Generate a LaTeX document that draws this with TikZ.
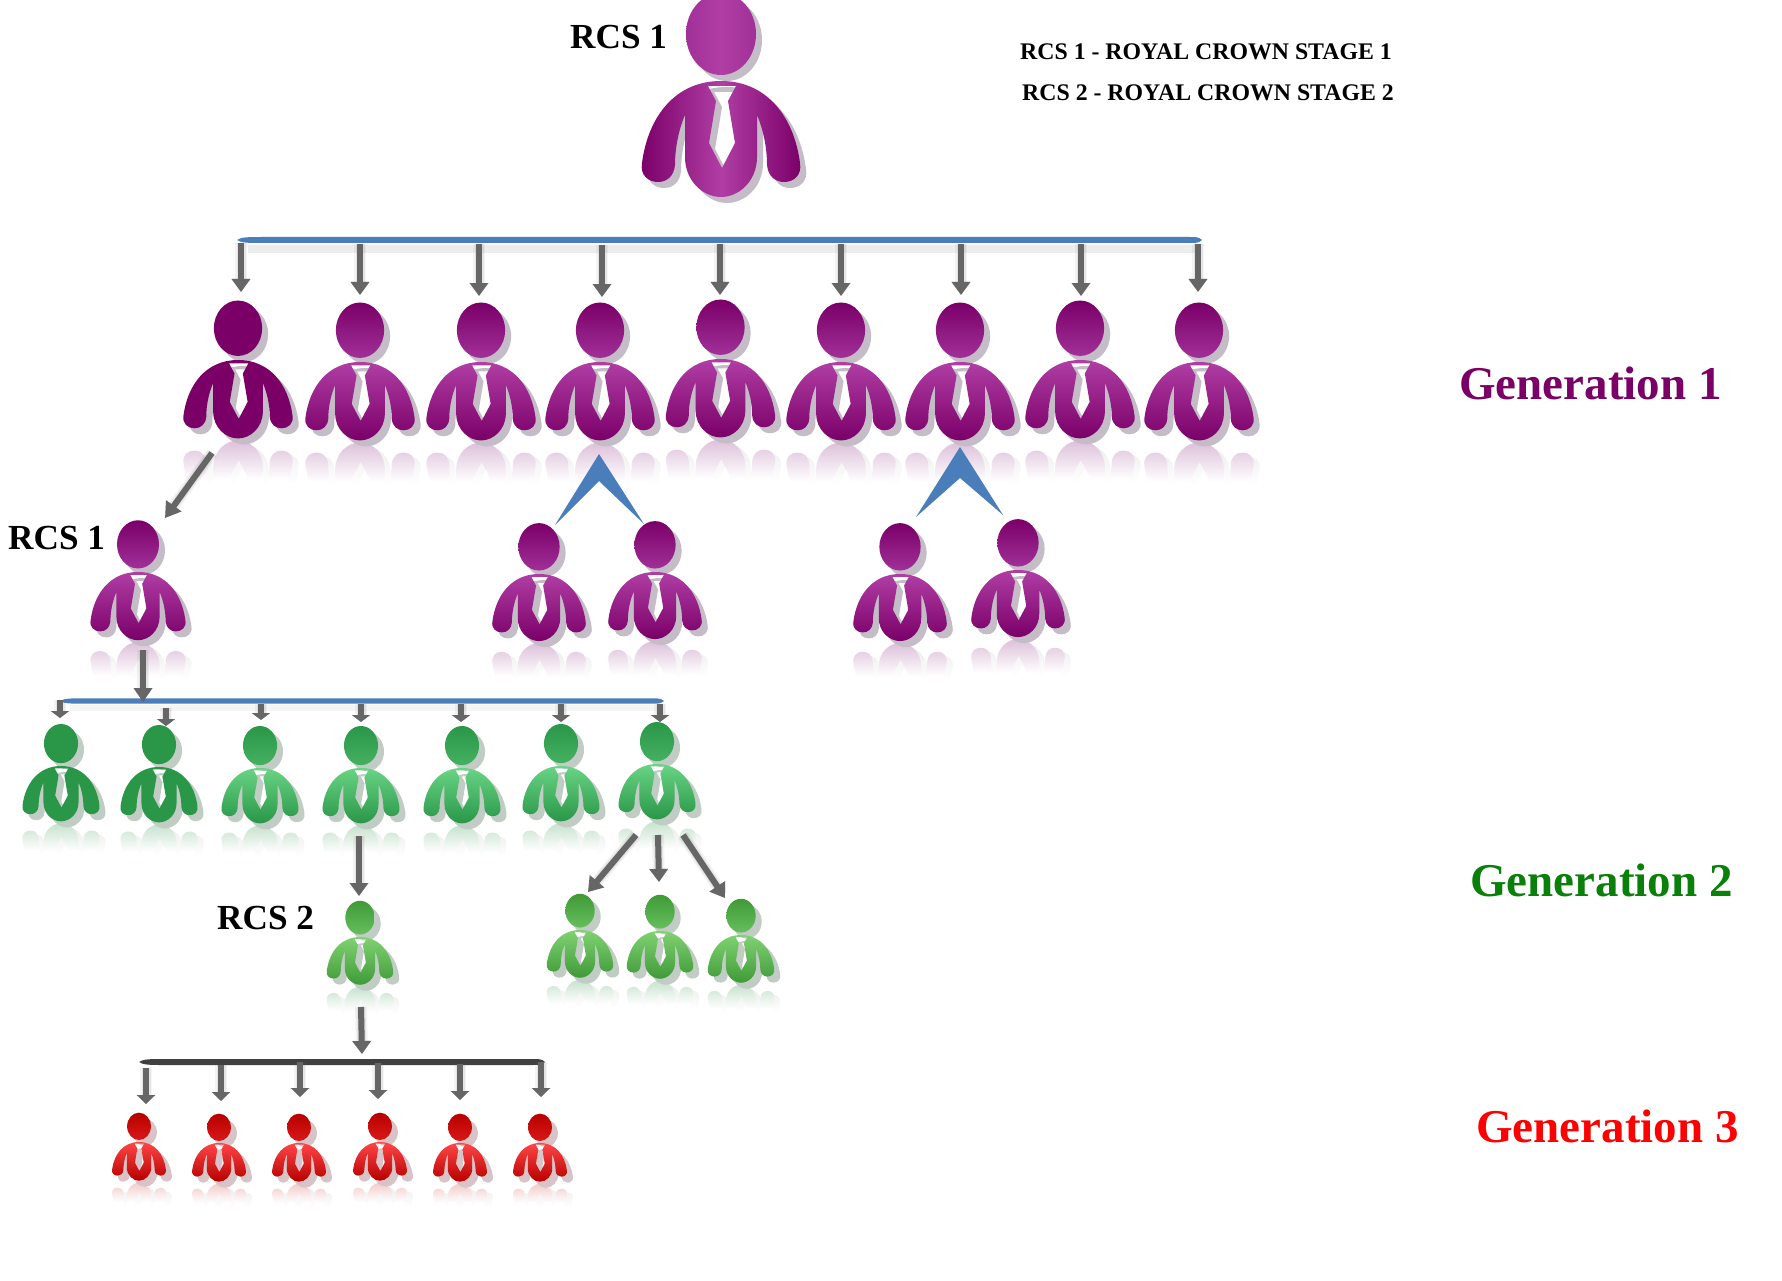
\documentclass[tikz,border=0pt]{standalone}
\usepackage{fontspec}
\setmainfont{Liberation Serif}
\usetikzlibrary{arrows.meta}

% Colours of the organisation chart
\definecolor{plumDark}{HTML}{7A0068}
\definecolor{plumMid}{HTML}{A03098}
\definecolor{plumLight}{HTML}{B03EA4}
\definecolor{plumShadow}{HTML}{C4BCC6}
\definecolor{plumMirror}{HTML}{DDC0DA}
\definecolor{greenDark}{HTML}{2A9648}
\definecolor{greenMid}{HTML}{44B060}
\definecolor{greenLight}{HTML}{68D484}
\definecolor{greenShadow}{HTML}{C0CCC4}
\definecolor{greenMirror}{HTML}{C8E2CE}
\definecolor{leafDark}{HTML}{409A38}
\definecolor{leafMid}{HTML}{66BE5C}
\definecolor{leafLight}{HTML}{80D272}
\definecolor{redDark}{HTML}{B80000}
\definecolor{redMid}{HTML}{D81818}
\definecolor{redLight}{HTML}{FF4646}
\definecolor{redShadow}{HTML}{D8C4C6}
\definecolor{redMirror}{HTML}{F2CCCC}
\definecolor{barBlue}{HTML}{4A7EBB}
\definecolor{barDark}{HTML}{404040}
\definecolor{arrowGrey}{HTML}{666666}
\definecolor{genGreen}{HTML}{0A800A}

% Outline of a figure's torso and arms, with the tie cut out
\newcommand{\figbody}{
  (0,0) .. controls (46,0) and (73,36) .. (79,82)
  .. controls (81,94) and (73,101) .. (63,101)
  .. controls (54,101) and (47,95) .. (46,84)
  .. controls (46,66) and (42,48) .. (36,34)
  -- (36,76) .. controls (36,100) and (18,116) .. (0,116)
  .. controls (-18,116) and (-36,100) .. (-36,76)
  -- (-36,34)
  .. controls (-42,48) and (-46,66) .. (-46,84)
  .. controls (-47,95) and (-54,101) .. (-63,101)
  .. controls (-73,101) and (-81,94) .. (-79,82)
  .. controls (-73,36) and (-46,0) .. (0,0) -- cycle
  (-13,5) -- (15,5) -- (7,20) -- (14,62) -- (1,87) -- (-12,62) -- (-5,20) -- cycle
}
\newcommand{\fighead}{ (0,-47) ellipse [x radius=35, y radius=41] }
\newcommand{\yfac}{.98}

% A figure without its mirror image: name, x, top of torso, scale
\newcommand{\bareperson}[5]{
  \coordinate (#1) at (#2,#3);
  \begin{scope}[#5]
    \pgfmathsetmacro{\ysc}{#4*\yfac}
    \begin{scope}[shift={(#2+6,#3+6)},x=#4pt,y=-\ysc pt]
      \fill[pshadow,even odd rule] \figbody;
      \fill[pshadow] \fighead;
    \end{scope}
    \begin{scope}[shift={(#2,#3)},x=#4pt,y=-\ysc pt]
      \shade[pbody,even odd rule] \figbody;
      \shade[phead] \fighead;
    \end{scope}
  \end{scope}
}
% A figure standing on a fading mirror image
\newcommand{\person}[5]{
  \begin{scope}[#5]
    \pgfmathsetmacro{\ysc}{#4*\yfac}
    \pgfmathsetmacro{\mirrorbase}{#3+2*116*\ysc+2}
    \begin{scope}[shift={(#2+6,\mirrorbase+4)},x=#4pt,y=\ysc pt]
      \shade[even odd rule,top color=black!7,bottom color=white,middle color=white] \figbody;
    \end{scope}
    \begin{scope}[shift={(#2,\mirrorbase)},x=#4pt,y=\ysc pt]
      \shade[pmirror,even odd rule] \figbody;
    \end{scope}
  \end{scope}
  \bareperson{#1}{#2}{#3}{#4}{#5}
}

% Connector with its soft drop shadow: name, start, end, tip length
\newcommand{\link}[4]{
  \coordinate (#1-a) at (#2);
  \coordinate (#1-b) at (#3);
  \begin{scope}[shift={(6,6)}]
    \draw[softarrow={#4},line width=12pt,opacity=.07] (#1-a) -- (#1-b);
    \draw[softarrow={#4},line width=9pt,opacity=.1] (#1-a) -- (#1-b);
    \draw[softarrow={#4},line width=6pt,opacity=.13] (#1-a) -- (#1-b);
  \end{scope}
  \draw[solidarrow={#4}] (#1-a) -- (#1-b);
}

% Tapered horizontal bar: name, left x, right x, y, half thickness, colour
\newcommand{\busbar}[6]{
  \coordinate (#1-l) at (#2,#4);
  \coordinate (#1-r) at (#3,#4);
  \fill[#6] (#1-l) .. controls +(4,-#5) and +(-12,0) .. ([shift={(24,-#5)}]#1-l)
    -- ([shift={(-12,-#5)}]#1-r) .. controls +(6,0) and +(-3,-#5) .. (#1-r)
    .. controls +(-3,#5) and +(6,0) .. ([shift={(-12,#5)}]#1-r)
    -- ([shift={(24,#5)}]#1-l) .. controls +(-12,0) and +(4,#5) .. (#1-l) -- cycle;
}

% Blue chevron that leads from one figure to the two below it
\newcommand{\chevron}[5]{
  \coordinate (#1-top) at (#2);
  \coordinate (#1-in) at (#3);
  \coordinate (#1-l) at (#4);
  \coordinate (#1-r) at (#5);
  \fill[barBlue] (#1-top) -- (#1-r) -- (#1-in) -- (#1-l) -- cycle;
}

\tikzset{
  softarrow/.style={arrowGrey,line cap=butt,
    -{Triangle[width=18pt,length=#1pt,sep=0pt]}},
  solidarrow/.style={arrowGrey,line width=6pt,
    -{Triangle[width=18pt,length=#1pt,sep=0pt]}},
  bigplum/.style={
    pbody/.style={left color=plumDark,right color=plumDark,middle color=plumLight},
    phead/.style={left color=plumMid,right color=plumMid,middle color=plumLight},
    pshadow/.style={fill=plumShadow}},
  plumflat/.style={
    pbody/.style={top color=plumDark,bottom color=plumDark},
    phead/.style={top color=plumDark,bottom color=plumDark},
    pshadow/.style={fill=plumShadow},
    pmirror/.style={top color=plumMirror,bottom color=white,middle color=white}},
  plumgrad/.style={
    pbody/.style={top color=plumLight,bottom color=plumDark},
    phead/.style={top color=plumDark,bottom color=plumMid},
    pshadow/.style={fill=plumShadow},
    pmirror/.style={top color=plumMirror,bottom color=white,middle color=white}},
  greenflat/.style={
    pbody/.style={top color=greenDark,bottom color=greenDark},
    phead/.style={top color=greenDark,bottom color=greenDark},
    pshadow/.style={fill=greenShadow},
    pmirror/.style={top color=greenMirror,bottom color=white,middle color=white}},
  greengrad/.style={
    pbody/.style={top color=greenLight,bottom color=greenDark},
    phead/.style={top color=greenDark,bottom color=greenMid},
    pshadow/.style={fill=greenShadow},
    pmirror/.style={top color=greenMirror,bottom color=white,middle color=white}},
  leafgrad/.style={
    pbody/.style={top color=leafLight,bottom color=leafDark},
    phead/.style={top color=leafDark,bottom color=leafMid},
    pshadow/.style={fill=greenShadow},
    pmirror/.style={top color=greenMirror,bottom color=white,middle color=white}},
  redgrad/.style={
    pbody/.style={top color=redLight,bottom color=redDark},
    phead/.style={top color=redDark,bottom color=redMid},
    pshadow/.style={fill=redShadow},
    pmirror/.style={top color=redMirror,bottom color=white,middle color=white}},
  caption/.style={font=\fontsize{35.2}{40}\selectfont\bfseries,inner sep=0pt},
  generation/.style={font=\fontsize{47}{52}\selectfont\bfseries,inner sep=0pt},
  legendline/.style={font=\fontsize{23.8}{28}\selectfont\bfseries,inner sep=0pt},
}

\begin{document}
\begin{tikzpicture}[x=1pt,y=-1pt]
  \clip (0,0) rectangle (1782,1281);
  \fill[white] (0,0) rectangle (1782,1281);

  % Founder at the top
  \renewcommand{\yfac}{1}
  \bareperson{root}{721}{81}{1}{bigplum}
  \renewcommand{\yfac}{.98}

  % Generation 1 row
  \person{g1a}{238}{360}{.69}{plumflat}
  \person{g1b}{360}{362}{.69}{plumgrad}
  \person{g1c}{481}{362}{.69}{plumgrad}
  \person{g1d}{600}{362}{.69}{plumgrad}
  \person{g1e}{720.5}{359}{.69}{plumgrad}
  \person{g1f}{841}{362}{.69}{plumgrad}
  \person{g1g}{960}{362}{.69}{plumgrad}
  \person{g1h}{1080}{360}{.69}{plumgrad}
  \person{g1i}{1199}{362}{.69}{plumgrad}

  % Recruits of Generation 1
  \person{r1}{138}{572}{.6}{plumgrad}
  \person{pa}{539}{574}{.59}{plumgrad}
  \person{pb}{655}{572}{.59}{plumgrad}
  \person{pc}{900}{574}{.59}{plumgrad}
  \person{pd}{1018}{570}{.59}{plumgrad}

  % Generation 2 row
  \person{g2a}{61}{766}{.487}{greenflat}
  \person{g2b}{159}{767}{.487}{greenflat}
  \person{g2c}{260}{768}{.487}{greengrad}
  \person{g2d}{361}{768}{.487}{greengrad}
  \person{g2e}{462}{768}{.487}{greengrad}
  \person{g2f}{561}{766}{.487}{greengrad}
  \person{g2g}{657}{764}{.487}{greengrad}

  % Recruits of Generation 2
  \person{r2}{360}{937}{.42}{leafgrad}
  \person{la}{580}{930}{.42}{leafgrad}
  \person{lb}{660}{931}{.42}{leafgrad}
  \person{lc}{741}{935}{.42}{leafgrad}

  % Generation 3 row
  \person{g3a}{139}{1142}{.34}{redgrad}
  \person{g3b}{219}{1143}{.34}{redgrad}
  \person{g3c}{299}{1143}{.34}{redgrad}
  \person{g3d}{380}{1142}{.34}{redgrad}
  \person{g3e}{460}{1143}{.34}{redgrad}
  \person{g3f}{540}{1143}{.34}{redgrad}

  % Horizontal bars
  \fill[black,opacity=.07] (248,245) rectangle (1200,253);
  \busbar{busone}{237}{1202}{240}{3}{barBlue}
  \fill[black,opacity=.04] (70,705) rectangle (662,711);
  \busbar{bustwo}{60}{664}{701}{2.7}{barBlue}
  \busbar{busthree}{139}{545}{1062}{3}{barDark}

  % Chevrons under two Generation 1 figures
  \chevron{chevone}{599,454}{599,481}{555,525}{644,524}
  \chevron{chevtwo}{960,447}{960,478}{916,517}{1003,515}

  % Arrows from the top bar to Generation 1
  \link{ga}{241,243}{241,292}{13}
  \link{gb}{360,244}{360,295}{13}
  \link{gc}{479,244}{479,296}{13}
  \link{gd}{602,245}{602,297}{13}
  \link{ge}{720,244}{720,295}{13}
  \link{gf}{841,244}{841,296}{13}
  \link{gg}{961,244}{961,295}{13}
  \link{gh}{1081,244}{1081,296}{13}
  \link{gi}{1198,244}{1198,292}{13}

  % First recruit and the second bar
  \link{down}{212,453}{165,518}{15}
  \link{toptwo}{143,650}{143,702}{14}

  % Arrows from the second bar to Generation 2
  \link{ha}{60,700}{60,718}{7}
  \link{hb}{166,708}{166,726}{7}
  \link{hc}{261,704}{261,720}{7}
  \link{hd}{361,704}{361,722}{7}
  \link{he}{461,704}{461,722}{7}
  \link{hf}{561,704}{561,722}{7}
  \link{hg}{660,704}{660,722}{7}

  % Arrows below Generation 2
  \link{ka}{359,836}{359,896}{13}
  \link{kb}{636,835}{588,892}{14}
  \link{kc}{658,835}{659,882}{13}
  \link{kd}{683,835}{725,898}{14}

  % Arrows to Generation 3
  \link{topthree}{361,1007}{362,1054}{13}
  \link{ma}{146,1068}{146,1104}{9}
  \link{mb}{221,1065}{221,1101}{9}
  \link{mc}{300,1062}{300,1097}{9}
  \link{md}{378,1063}{378,1099}{9}
  \link{me}{460,1064}{460,1100}{9}
  \link{mf}{541,1062}{541,1097}{9}

  % Texts
  \node[caption,anchor=west] (rcstop) at (570,37) {RCS 1};
  \node[caption,anchor=west] (rcsleft) at (8,538) {RCS 1};
  \node[caption,anchor=west] (rcstwo) at (217,918) {RCS 2};
  \node[legendline,anchor=west] (legone) at (1020,52) {RCS 1 - ROYAL CROWN STAGE 1};
  \node[legendline,anchor=west] (legtwo) at (1022,93) {RCS 2 - ROYAL CROWN STAGE 2};
  \node[generation,anchor=west,text=plumDark] (genone) at (1459,383) {Generation 1};
  \node[generation,anchor=west,text=genGreen] (gentwo) at (1470,880) {Generation 2};
  \node[generation,anchor=west,text=red] (genthree) at (1476,1126) {Generation 3};
\end{tikzpicture}
\end{document}
